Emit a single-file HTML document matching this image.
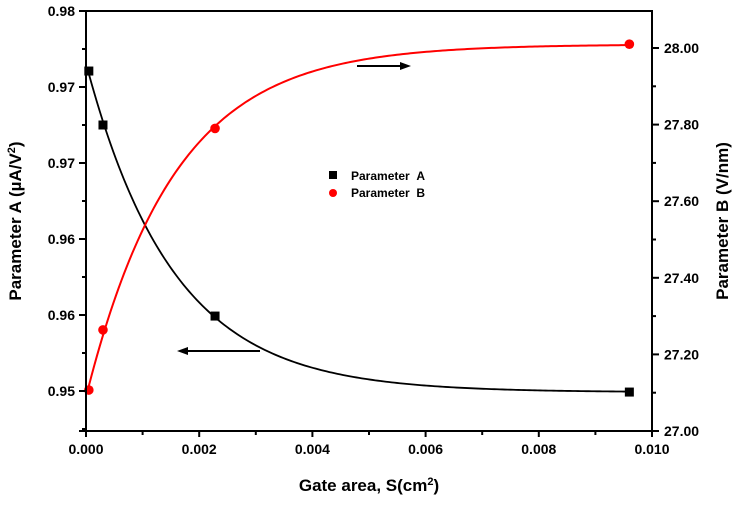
<!DOCTYPE html>
<html><head><meta charset="utf-8"><style>
body{margin:0;background:#fff;width:737px;height:502px;overflow:hidden}
text{font-family:"Liberation Sans",Arial,sans-serif;font-weight:bold}
</style></head><body>
<svg id="chart" width="737" height="502" viewBox="0 0 737 502" xmlns="http://www.w3.org/2000/svg"></svg>
<script>
const xTicks=[0,0.002,0.004,0.006,0.008,0.010];
const xTickLabels=["0.000","0.002","0.004","0.006","0.008","0.010"];
const yLeftTicks=[0.98,0.975,0.97,0.965,0.96,0.955];
const yLeftTickLabels=["0.98","0.97","0.97","0.96","0.96","0.95"];
const yRightTicks=[27.0,27.2,27.4,27.6,27.8,28.0];
const yRightTickLabels=["27.00","27.20","27.40","27.60","27.80","28.00"];
const gateArea=[0.00005,0.0003,0.00228,0.0096];
const paramA=[0.97605,0.9725,0.95993,0.95493];
const paramB=[27.107,27.264,27.79,28.01];

const L=86,R=652,T=11,B=431;
const sx=v=>L+(v-0)/(0.010)*(R-L);
const syL=v=>T+(0.98-v)/0.005*76;
const syR=v=>B-(v-27.0)/0.2*76.6;
const svg=document.getElementById('chart');
const NS="http://www.w3.org/2000/svg";
function el(tag,attrs,name,txt){const e=document.createElementNS(NS,tag);for(const k in attrs)e.setAttribute(k,attrs[k]);


if(txt!==undefined)e.textContent=txt;svg.appendChild(e);return e;}

function fit(xs,ys){let best=null;
for(let t=0.0003;t<0.006;t+=0.00001){const f=xs.map(x=>Math.exp(-x/t));const n=xs.length;
const mf=f.reduce((a,b)=>a+b)/n,my=ys.reduce((a,b)=>a+b)/n;let sfy=0,sff=0;
for(let i=0;i<n;i++){sfy+=(f[i]-mf)*(ys[i]-my);sff+=(f[i]-mf)**2;}
const d=sfy/sff,c=my-d*mf;let err=0;for(let i=0;i<n;i++)err+=(c+d*f[i]-ys[i])**2;
if(!best||err<best.err)best={c,d,t,err};}
return x=>best.c+best.d*Math.exp(-x/best.t);}
function curvePath(fn,sy){let p="";const x0=gateArea[0],x1=gateArea[gateArea.length-1];
for(let i=0;i<=200;i++){const x=x0+(x1-x0)*i/200;p+=(i?"L":"M")+sx(x).toFixed(2)+","+sy(fn(x)).toFixed(2);}return p;}
const fA=fit(gateArea,paramA),fB=fit(gateArea,paramB);
el('path',{d:curvePath(fA,syL),fill:'none',stroke:'#000','stroke-width':1.8},'curve-parameter-a');
el('path',{d:curvePath(fB,syR),fill:'none',stroke:'#f00','stroke-width':2},'curve-parameter-b');
gateArea.forEach((x,i)=>{
el('rect',{x:sx(x)-4.5,y:syL(paramA[i])-4.5,width:9,height:9,fill:'#000'},'marker-a-'+i);
el('circle',{cx:sx(x),cy:syR(paramB[i]),r:4.8,fill:'#f00'},'marker-b-'+i);});

el('rect',{x:L,y:T,width:R-L,height:B-T,fill:'none',stroke:'#000','stroke-width':2},'plot-frame');
xTicks.forEach((v,i)=>{const x=sx(v);el('line',{x1:x,y1:B,x2:x,y2:B+6,stroke:'#000','stroke-width':2},'x-tick');
el('text',{x:x,y:B+23,'text-anchor':'middle','font-size':14},'x-tick-label',xTickLabels[i]);
if(i<xTicks.length-1){const m=sx(v+0.001);el('line',{x1:m,y1:B,x2:m,y2:B+4,stroke:'#000','stroke-width':2},'x-minor-tick');}});
yLeftTicks.forEach((v,i)=>{const y=syL(v);el('line',{x1:L-7,y1:y,x2:L,y2:y,stroke:'#000','stroke-width':2},'y-left-tick');
el('text',{x:L-11,y:y+5,'text-anchor':'end','font-size':14},'y-left-tick-label',yLeftTickLabels[i]);
const m=syL(v-0.0025);if(m<=B)el('line',{x1:L-4,y1:m,x2:L,y2:m,stroke:'#000','stroke-width':2},'y-left-minor-tick');});
el('line',{x1:L-7,y1:B,x2:L,y2:B,stroke:'#000','stroke-width':2},'y-left-tick');
yRightTicks.forEach((v,i)=>{const y=syR(v);el('line',{x1:R,y1:y,x2:R+7,y2:y,stroke:'#000','stroke-width':2},'y-right-tick');
el('text',{x:R+12,y:y+5,'text-anchor':'start','font-size':14},'y-right-tick-label',yRightTickLabels[i]);
if(i<yRightTicks.length-1){const m=syR(v+0.1);el('line',{x1:R,y1:m,x2:R+4,y2:m,stroke:'#000','stroke-width':2},'y-right-minor-tick');}});
const xt=el('text',{x:369,y:491,'text-anchor':'middle','font-size':17},'x-axis-title');
xt.innerHTML='Gate area, S(cm<tspan dy="-6" font-size="11">2</tspan><tspan dy="6">)</tspan>';
const yl=el('text',{transform:'translate(21,221) rotate(-90)','text-anchor':'middle','font-size':17},'y-left-axis-title');
yl.innerHTML='Parameter A (µA/V<tspan dy="-6" font-size="11">2</tspan><tspan dy="6">)</tspan>';
el('text',{transform:'translate(728,221) rotate(-90)','text-anchor':'middle','font-size':17},'y-right-axis-title','Parameter B (V/nm)');
el('line',{x1:357,y1:66,x2:402,y2:66,stroke:'#000','stroke-width':2},'arrow-right-line');
el('polygon',{points:'411,66 400,62 400,70',fill:'#000'},'arrow-right-head');
el('line',{x1:260,y1:351,x2:186,y2:351,stroke:'#000','stroke-width':2},'arrow-left-line');
el('polygon',{points:'177,351 188,347 188,355',fill:'#000'},'arrow-left-head');
el('rect',{x:329,y:171,width:8,height:8,fill:'#000'},'legend-marker-a');
el('text',{x:351,y:180,'font-size':12},'legend-label-a','Parameter\u00a0\u00a0A');
el('circle',{cx:333,cy:193,r:4,fill:'#f00'},'legend-marker-b');
el('text',{x:351,y:197,'font-size':12},'legend-label-b','Parameter\u00a0\u00a0B');
</script>
</body></html>
